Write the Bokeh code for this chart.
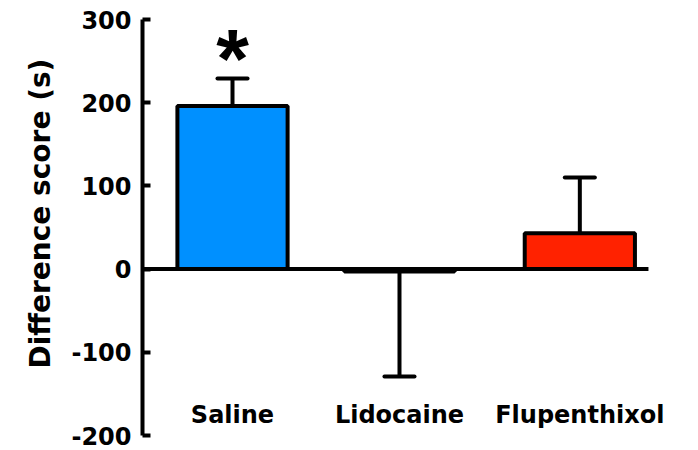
import numpy as np
from bokeh.plotting import figure
from bokeh.models import ColumnDataSource, Range1d, FixedTicker, LabelSet, Title
from bokeh.core.properties import value
from bokeh.embed import file_html
from bokeh.resources import INLINE

# ---- data ----
categories = ["Saline", "Lidocaine", "Flupenthixol"]
means = [196, -3, 43]
sems = [33, 126, 67]
significance = ["*", "", ""]
y_ticks = [-200, -100, 0, 100, 200, 300]
y_tick_labels = ["-200", "-100", "0", "100", "200", "300"]
y_label = "Difference score (s)"

# ---- layout / style ----
x_pos = [1.0, 2.0, 3.08]
bar_colors = ["#0090ff", "#bfbfbf", "#ff2200"]
bar_width = 0.66
cap_half = 0.09
x_start, x_end = 0.461, 3.611
zero_line_end = 3.491

means_a = np.array(means, dtype=float)
sems_a = np.array(sems, dtype=float)
sign = np.where(means_a >= 0, 1.0, -1.0)
tips = means_a + sign * sems_a
xp = np.array(x_pos)

src = ColumnDataSource(dict(
    x=xp, cat=categories, mean=means_a, tip=tips, color=bar_colors,
    cap0=xp - cap_half, cap1=xp + cap_half,
    lab_y=np.full(len(categories), -185.0),
    sig=significance, sig_y=tips + 24,
))

p = figure(width=698, height=450, output_backend="svg", toolbar_location=None,
           x_range=Range1d(x_start, x_end), y_range=Range1d(y_ticks[0], y_ticks[-1]),
           x_axis_location=None,
           min_border_left=142, min_border_right=30, min_border_top=19, min_border_bottom=15)
p.outline_line_color = None
p.grid.visible = False
p.background_fill_color = "white"
p.border_fill_color = "white"

p.vbar(x="x", top="mean", bottom=0, width=bar_width, fill_color="color",
       line_color="black", line_width=4, source=src)
p.segment(x0="x", y0="mean", x1="x", y1="tip", line_color="black", line_width=4, source=src)
p.segment(x0="cap0", y0="tip", x1="cap1", y1="tip", line_color="black", line_width=4,
          line_cap="round", source=src)

# zero line
p.segment(x0=[x_start], y0=[0], x1=[zero_line_end], y1=[0], line_color="black", line_width=4)

ax = p.yaxis[0]
ax.ticker = FixedTicker(ticks=y_ticks)
ax.major_label_overrides = {t: s for t, s in zip(y_ticks, y_tick_labels)}
ax.axis_line_width = 4
ax.major_tick_line_width = 4
ax.major_tick_in = 8
ax.major_tick_out = 0
ax.minor_tick_line_color = None
ax.major_label_standoff = 11
ax.major_label_text_font = "DejaVu Sans"
ax.major_label_text_font_style = "bold"
ax.major_label_text_font_size = "24px"
ax.major_label_text_color = "black"

p.add_layout(Title(text=y_label, align="left", offset=67, standoff=23,
                   text_font="DejaVu Sans", text_font_style="bold",
                   text_font_size="28px", text_color="black"), "left")

p.add_layout(LabelSet(x="x", y="lab_y", text="cat", source=src,
                      text_align="center", text_baseline="alphabetic",
                      text_font=value("DejaVu Sans"), text_font_style="bold",
                      text_font_size="24px", text_color="black"))

p.add_layout(LabelSet(x="x", y="sig_y", text="sig", source=src,
                      text_align="center", text_baseline="middle",
                      text_font=value("Liberation Sans"), text_font_style="bold",
                      text_font_size="84px", text_color="black"))

open("out.html", "w").write(file_html(p, INLINE))
